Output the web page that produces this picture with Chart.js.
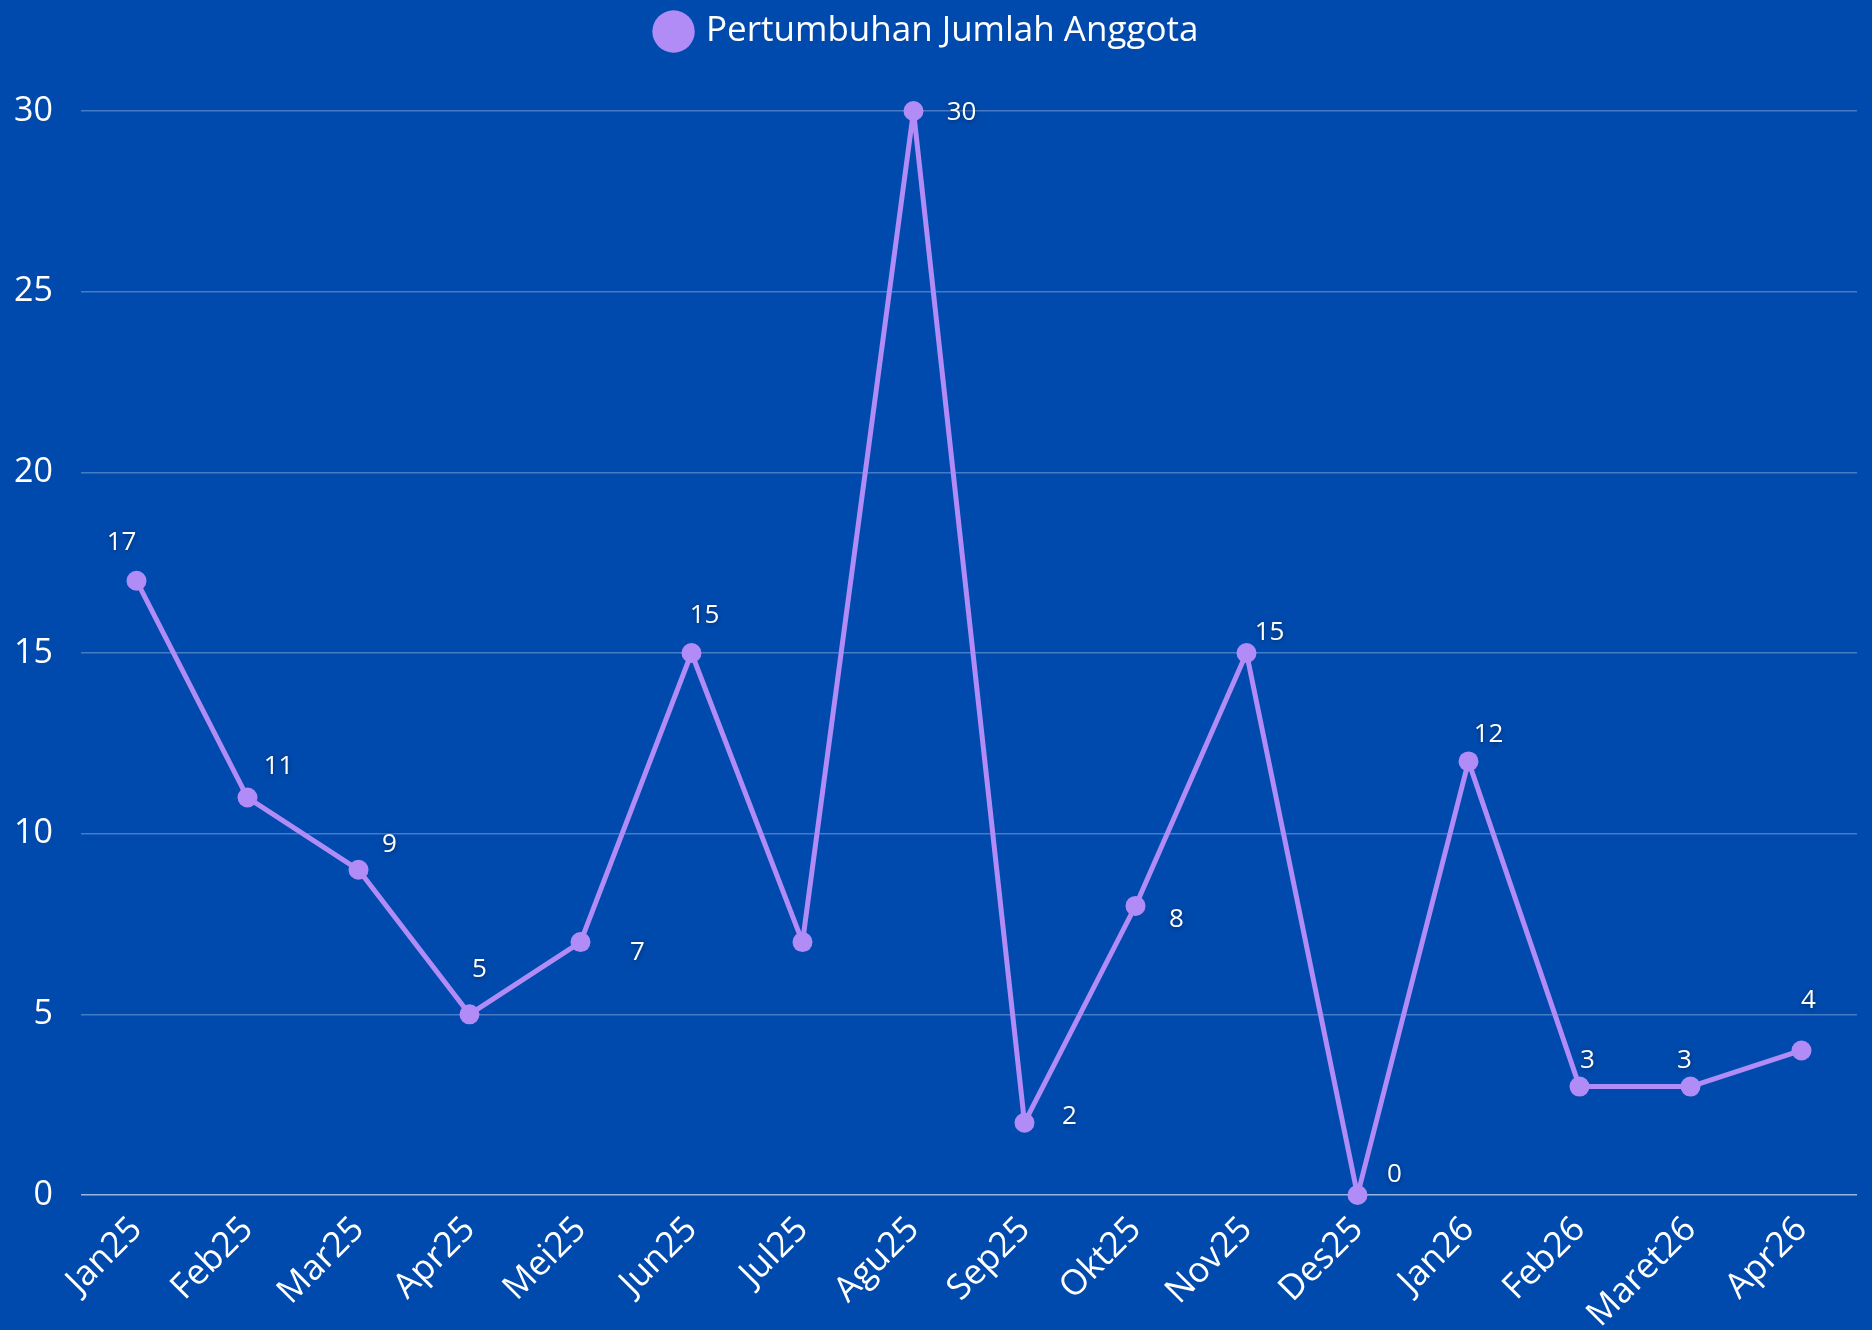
<!DOCTYPE html>
<html>
<head>
<meta charset="utf-8">
<script src="https://cdn.jsdelivr.net/npm/chart.js@4.4.1/dist/chart.umd.min.js"></script>
<style>
  html, body { margin: 0; padding: 0; background: #004AAD; overflow: hidden; }
  #wrap { width: 1872px; height: 1330px; position: relative; }
</style>
</head>
<body>
<div id="wrap"><canvas id="chart"></canvas></div>
<script>
// data
const bulan = ['Jan25', 'Feb25', 'Mar25', 'Apr25', 'Mei25', 'Jun25', 'Jul25', 'Agu25',
               'Sep25', 'Okt25', 'Nov25', 'Des25', 'Jan26', 'Feb26', 'Maret26', 'Apr26'];
const jumlahAnggota = [17, 11, 9, 5, 7, 15, 7, 30, 2, 8, 15, 0, 12, 3, 3, 4];
const yTicks = [0, 5, 10, 15, 20, 25, 30];

// posisi label relatif ke titik (px), null = tidak ditampilkan
const labelOffsets = [[-15, -38], [31, -31], [31, -25], [10, -45], [57, 11], [13, -37], null, [48, 2],
                      [45, -6], [41, 14], [23, -20], [37, -20], [20, -27], [8, -26], [-6, -26], [7, -50]];

const warnaGaris = '#B18CF6';

// plugin kecil untuk menulis nilai di dekat titik
const labelNilai = {
  id: 'labelNilai',
  afterDatasetsDraw(chart) {
    const ctx = chart.ctx;
    const meta = chart.getDatasetMeta(0);
    ctx.save();
    ctx.font = '26px "Open Sans"';
    ctx.fillStyle = '#ffffff';
    ctx.textAlign = 'center';
    ctx.textBaseline = 'middle';
    ctx.shadowColor = 'rgba(0,0,0,0.45)';
    ctx.shadowBlur = 5;
    ctx.shadowOffsetY = 1;
    meta.data.forEach((pt, i) => {
      const off = labelOffsets[i];
      if (!off) return;
      ctx.fillText(String(jumlahAnggota[i]), pt.x + off[0], pt.y + off[1]);
    });
    ctx.restore();
  }
};

// tambah ruang di bawah legenda
const ruangLegenda = {
  id: 'ruangLegenda',
  beforeLayout(chart) {
    const lg = chart.legend;
    if (lg && !lg._ditambah) {
      const fitAsli = lg.fit;
      lg.fit = function () {
        fitAsli.call(this);
        this.height += 52;
      };
      lg._ditambah = true;
    }
  }
};

const ctx = document.getElementById('chart').getContext('2d');
new Chart(ctx, {
  type: 'line',
  data: {
    labels: bulan,
    datasets: [{
      label: 'Pertumbuhan Jumlah Anggota',
      data: jumlahAnggota,
      borderColor: warnaGaris,
      backgroundColor: warnaGaris,
      borderWidth: 5,
      borderJoinStyle: 'round',
      pointRadius: 10,
      pointHoverRadius: 10,
      pointBackgroundColor: warnaGaris,
      pointBorderWidth: 0,
      tension: 0,
      clip: false
    }]
  },
  options: {
    responsive: true,
    maintainAspectRatio: false,
    animation: false,
    layout: { padding: { top: 0, right: 15, bottom: 0, left: 0 } },
    plugins: {
      legend: {
        position: 'top',
        labels: {
          usePointStyle: true,
          pointStyle: 'circle',
          boxWidth: 30,
          boxHeight: 30,
          color: '#ffffff',
          padding: 14,
          font: { family: 'Open Sans', size: 35 }
        }
      },
      tooltip: { enabled: false }
    },
    scales: {
      x: {
        offset: true,
        grid: { display: false, drawTicks: false },
        border: { display: false },
        afterFit(axis) { axis.height = 135; },
        ticks: {
          color: '#ffffff',
          minRotation: 45,
          maxRotation: 45,
          padding: 14,
          font: { family: 'Open Sans', size: 35 }
        }
      },
      y: {
        min: 0,
        max: 30,
        afterBuildTicks(axis) {
          axis.ticks = yTicks.map(v => ({ value: v }));
        },
        afterFit(axis) { axis.width = 81; },
        grid: {
          color: ctx => ctx.tick && ctx.tick.value === 0 ? 'rgba(255,255,255,0.6)' : 'rgba(255,255,255,0.28)',
          lineWidth: 1.5,
          drawTicks: false
        },
        border: { display: false },
        ticks: {
          color: '#ffffff',
          padding: 28,
          font: { family: 'Open Sans', size: 34 }
        }
      }
    }
  },
  plugins: [labelNilai, ruangLegenda]
});
</script>
</body>
</html>
